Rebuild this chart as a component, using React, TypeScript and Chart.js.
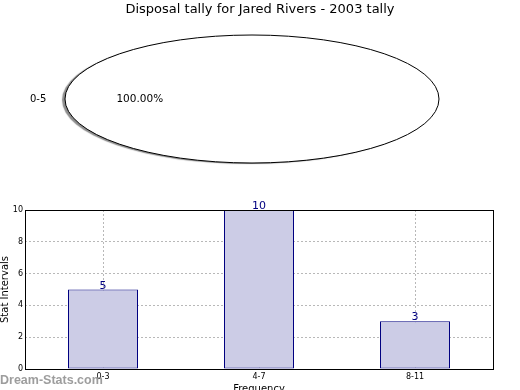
import React, { useEffect, useRef } from 'react';
import { Chart, registerables } from 'chart.js';

Chart.register(...registerables);

const TITLE = 'Disposal tally for Jared Rivers - 2003 tally';
const pieLabels = ['0-5'];
const pieValues = [100];
const barCategories = ['0-3', '4-7', '8-11'];
const barValues = [5, 10, 3];
const yMin = 0;
const yMax = 10;
const yStep = 2;
const xTitle = 'Frequency';
const yTitle = 'Stat Intervals';
const watermark = 'Dream-Stats.com';

const FONT = "'DejaVu Sans', sans-serif";
const ELLIPSE_RATIO = 187 / 64;
const BAR_FILL = 'rgb(204,204,230)';
const BAR_EDGE = '#000080';

const topTitle = {
  id: 'topTitle',
  afterDraw(chart: any) {
    const ctx = chart.ctx;
    ctx.save();
    ctx.font = `13px ${FONT}`;
    ctx.fillStyle = '#000';
    ctx.textAlign = 'center';
    ctx.textBaseline = 'middle';
    ctx.fillText(TITLE, chart.width / 2, 10);
    ctx.restore();
  },
};

const pieEllipse = {
  id: 'pieEllipse',
  beforeDatasetsDraw(chart: any) {
    const el = chart.getDatasetMeta(0).data[0];
    const ctx = chart.ctx;
    ctx.save();
    if (!el) return;
    ctx.shadowColor = 'rgba(0,0,0,0.45)';
    ctx.shadowOffsetX = -3;
    ctx.shadowOffsetY = 1;
    ctx.shadowBlur = 1;
    ctx.translate(el.x, el.y);
    ctx.scale(ELLIPSE_RATIO, 1);
    ctx.translate(-el.x, -el.y);
  },
  afterDatasetsDraw(chart: any) {
    const ctx = chart.ctx;
    ctx.restore();
    const meta = chart.getDatasetMeta(0);
    const total = pieValues.reduce((a, b) => a + b, 0);
    meta.data.forEach((el: any, i: number) => {
      const r = el.outerRadius;
      ctx.save();
      ctx.beginPath();
      if (el.circumference >= Math.PI * 2 - 1e-6) {
        ctx.ellipse(el.x, el.y, r * ELLIPSE_RATIO, r, 0, 0, Math.PI * 2);
      } else {
        ctx.moveTo(el.x, el.y);
        ctx.ellipse(el.x, el.y, r * ELLIPSE_RATIO, r, 0, el.startAngle, el.endAngle);
        ctx.closePath();
      }
      ctx.strokeStyle = '#000';
      ctx.lineWidth = 1;
      ctx.stroke();
      const mid = (el.startAngle + el.endAngle) / 2;
      const cx = Math.cos(mid);
      const cy = Math.sin(mid);
      ctx.font = `10px ${FONT}`;
      ctx.fillStyle = '#000';
      ctx.textBaseline = 'middle';
      ctx.textAlign = cx < 0 ? 'right' : 'left';
      ctx.fillText(pieLabels[i], el.x + cx * r * 1.1 * ELLIPSE_RATIO, el.y + cy * r * 1.1);
      ctx.textAlign = 'center';
      ctx.font = `10.5px ${FONT}`;
      const pct = ((pieValues[i] / total) * 100).toFixed(2) + '%';
      ctx.fillText(pct, el.x + cx * r * 0.6 * ELLIPSE_RATIO, el.y + cy * r * 0.6);
      ctx.restore();
    });
  },
};

const frameAndLabels = {
  id: 'frameAndLabels',
  afterDatasetsDraw(chart: any) {
    const ctx = chart.ctx;
    const meta = chart.getDatasetMeta(0);
    ctx.save();
    ctx.font = `11px ${FONT}`;
    ctx.fillStyle = BAR_EDGE;
    ctx.textAlign = 'center';
    ctx.textBaseline = 'alphabetic';
    meta.data.forEach((el: any, i: number) => {
      ctx.fillText(String(barValues[i]), el.x, el.y - 1);
    });
    ctx.restore();
  },
  afterDraw(chart: any) {
    const ctx = chart.ctx;
    const a = chart.chartArea;
    ctx.save();
    ctx.strokeStyle = '#000';
    ctx.lineWidth = 1;
    ctx.strokeRect(Math.round(a.left) + 0.5, Math.round(a.top) + 0.5, Math.round(a.right - a.left), Math.round(a.bottom - a.top));
    ctx.font = `bold 12.5px 'Liberation Sans', sans-serif`;
    ctx.fillStyle = 'rgba(140,140,140,0.85)';
    ctx.textAlign = 'left';
    ctx.textBaseline = 'alphabetic';
    ctx.fillText(watermark, 0, 204);
    ctx.restore();
  },
};

export default function App() {
  const pieRef = useRef<HTMLCanvasElement>(null);
  const barRef = useRef<HTMLCanvasElement>(null);

  useEffect(() => {
    const pie = new Chart(pieRef.current as HTMLCanvasElement, {
      type: 'pie',
      data: {
        labels: pieLabels,
        datasets: [
          {
            data: pieValues,
            backgroundColor: '#ffffff',
            borderWidth: 0,
            clip: false as any,
          },
        ],
      },
      options: {
        animation: false,
        responsive: false,
        events: [],
        rotation: 90,
        layout: { padding: { top: 35, bottom: 17, left: 0, right: 16 } },
        plugins: { legend: { display: false }, tooltip: { enabled: false }, title: { display: false } },
      },
      plugins: [pieEllipse, topTitle],
    });

    const bar = new Chart(barRef.current as HTMLCanvasElement, {
      type: 'bar',
      data: {
        labels: barCategories,
        datasets: [
          {
            data: barValues,
            backgroundColor: BAR_FILL,
            borderColor: BAR_EDGE,
            borderWidth: 1,
            borderSkipped: false,
            barPercentage: 70 / 156,
            categoryPercentage: 1,
          },
        ],
      },
      options: {
        animation: false,
        responsive: false,
        events: [],
        layout: { padding: { top: 30, right: 27, left: 0, bottom: 0 } },
        plugins: { legend: { display: false }, tooltip: { enabled: false } },
        scales: {
          x: {
            z: 1,
            offset: true,
            afterFit: (s: any) => { s.height = 31; },
            grid: { offset: false, color: '#b8b8b8', drawTicks: false },
            border: { display: false, dash: [2, 2] },
            ticks: { font: { family: FONT, size: 8 }, color: '#000', padding: 3 },
            title: { display: true, text: xTitle, font: { family: FONT, size: 10 }, color: '#000', padding: { top: 0, bottom: 5 } },
          },
          y: {
            z: 1,
            min: yMin,
            max: yMax,
            afterFit: (s: any) => { s.width = 25; },
            grid: { color: '#b8b8b8', drawTicks: false },
            border: { display: false, dash: [2, 2] },
            ticks: { stepSize: yStep, font: { family: FONT, size: 8 }, color: '#000', padding: 2 },
            title: { display: true, text: yTitle, font: { family: FONT, size: 10 }, color: '#000', padding: { top: -1, bottom: 0 } },
          },
        },
      },
      plugins: [frameAndLabels],
    });

    return () => {
      pie.destroy();
      bar.destroy();
    };
  }, []);

  return (
    <div style={{ position: 'fixed', left: 0, top: 0, width: 520, height: 390, overflow: 'hidden', background: '#fff' }}>
      <canvas ref={pieRef} width={520} height={180} style={{ position: 'absolute', left: 0, top: 0, width: 520, height: 180 }} />
      <canvas ref={barRef} width={520} height={220} style={{ position: 'absolute', left: 0, top: 180, width: 520, height: 220 }} />
    </div>
  );
}
